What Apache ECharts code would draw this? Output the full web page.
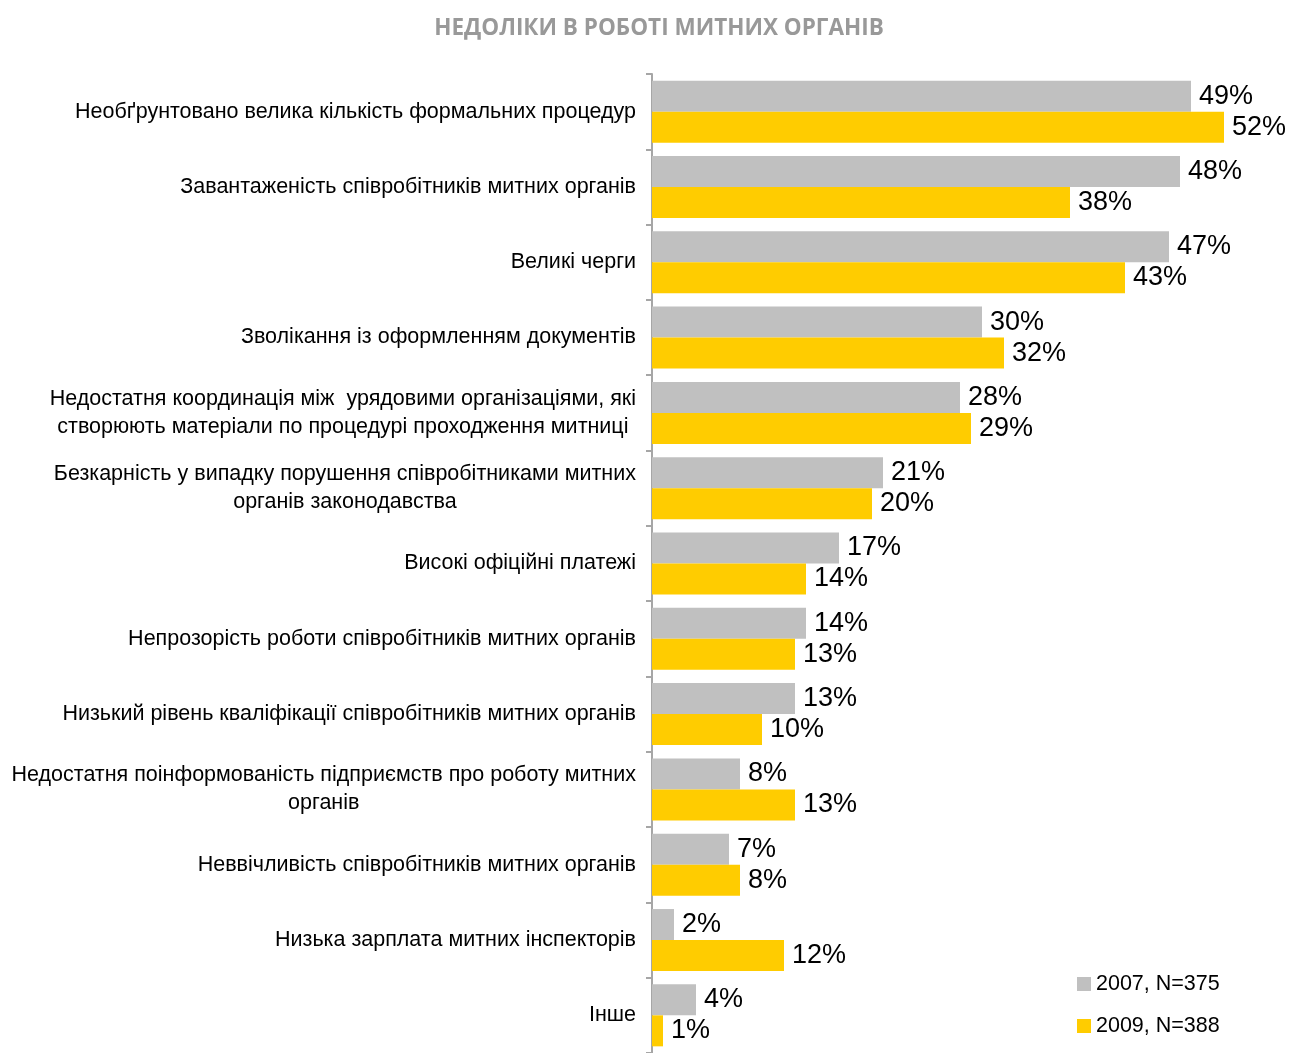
<!DOCTYPE html>
<html>
<head>
<meta charset="utf-8">
<script src="https://cdn.jsdelivr.net/npm/echarts@6/dist/echarts.min.js"></script>
<style>
html,body{margin:0;padding:0;background:#fff;}
#chart{width:1289px;height:1053px;}
</style>
</head>
<body>
<div id="chart"></div>
<script>
var categories = [
	'Необґрунтовано велика кількість формальних процедур',
	'Завантаженість співробітників митних органів',
	'Великі черги',
	'Зволікання із оформленням документів',
	'Недостатня координація між  урядовими організаціями, які\nстворюють матеріали по процедурі проходження митниці',
	'Безкарність у випадку порушення співробітниками митних\nорганів законодавства',
	'Високі офіційні платежі',
	'Непрозорість роботи співробітників митних органів',
	'Низький рівень кваліфікації співробітників митних органів',
	'Недостатня поінформованість підприємств про роботу митних\nорганів',
	'Неввічливість співробітників митних органів',
	'Низька зарплата митних інспекторів',
	'Інше'
];
var values2007 = [49, 48, 47, 30, 28, 21, 17, 14, 13, 8, 7, 2, 4];
var values2009 = [52, 38, 43, 32, 29, 20, 14, 13, 10, 13, 8, 12, 1];
var seriesNames = ['2007, N=375', '2009, N=388'];

var chart = echarts.init(document.getElementById('chart'));

var labelStyle = {
	show: true,
	position: 'right',
	distance: 8,
	formatter: '{c}%',
	color: '#000',
	fontFamily: 'Liberation Sans',
	fontSize: 27
};

var option = {
	animation: false,
	title: {
		text: 'НЕДОЛІКИ В РОБОТІ МИТНИХ ОРГАНІВ',
		left: 654,
		textAlign: 'center',
		top: 12,
		textStyle: {
			color: '#999',
			fontFamily: 'Open Sans',
			fontWeight: 'bold',
			fontSize: 22.5
		}
	},
	legend: {
		orient: 'vertical',
		left: 1077,
		top: 973,
		padding: 0,
		itemWidth: 14,
		itemHeight: 14,
		itemGap: 20,
		icon: 'rect',
		textStyle: {
			color: '#000',
			fontFamily: 'Liberation Sans',
			fontSize: 21.5
		},
		data: seriesNames
	},
	grid: {
		left: 652,
		top: 74,
		width: 605,
		height: 988
	},
	xAxis: {
		type: 'value',
		min: 0,
		max: 55,
		show: false
	},
	yAxis: {
		type: 'category',
		inverse: true,
		data: categories,
		axisLine: { show: true, lineStyle: { color: '#a6a6a6', width: 2 } },
		axisTick: { show: true, length: 6, lineStyle: { color: '#a6a6a6', width: 2 } },
		axisLabel: {
			margin: 16,
			color: '#000',
			fontFamily: 'Liberation Sans',
			fontSize: 21.5,
			lineHeight: 28,
			align: 'right',
			// multi-line labels: lines centred inside a right-aligned block
			formatter: function(value){
				return value.split('\n').map(function(line){
					return '{c|' + line + '}';
				}).join('\n');
			},
			rich: {
				c: {
					align: 'center',
					color: '#000',
					fontFamily: 'Liberation Sans',
					fontSize: 21.5,
					lineHeight: 28
				}
			}
		}
	},
	series: [
		{
			name: seriesNames[0],
			type: 'bar',
			data: values2007,
			barWidth: 31,
			barGap: '0%',
			itemStyle: { color: '#c0c0c0' },
			label: labelStyle
		},
		{
			name: seriesNames[1],
			type: 'bar',
			data: values2009,
			barWidth: 31,
			barGap: '0%',
			itemStyle: { color: '#ffcc00' },
			label: labelStyle
		}
	]
};

chart.setOption(option);
</script>
</body>
</html>
